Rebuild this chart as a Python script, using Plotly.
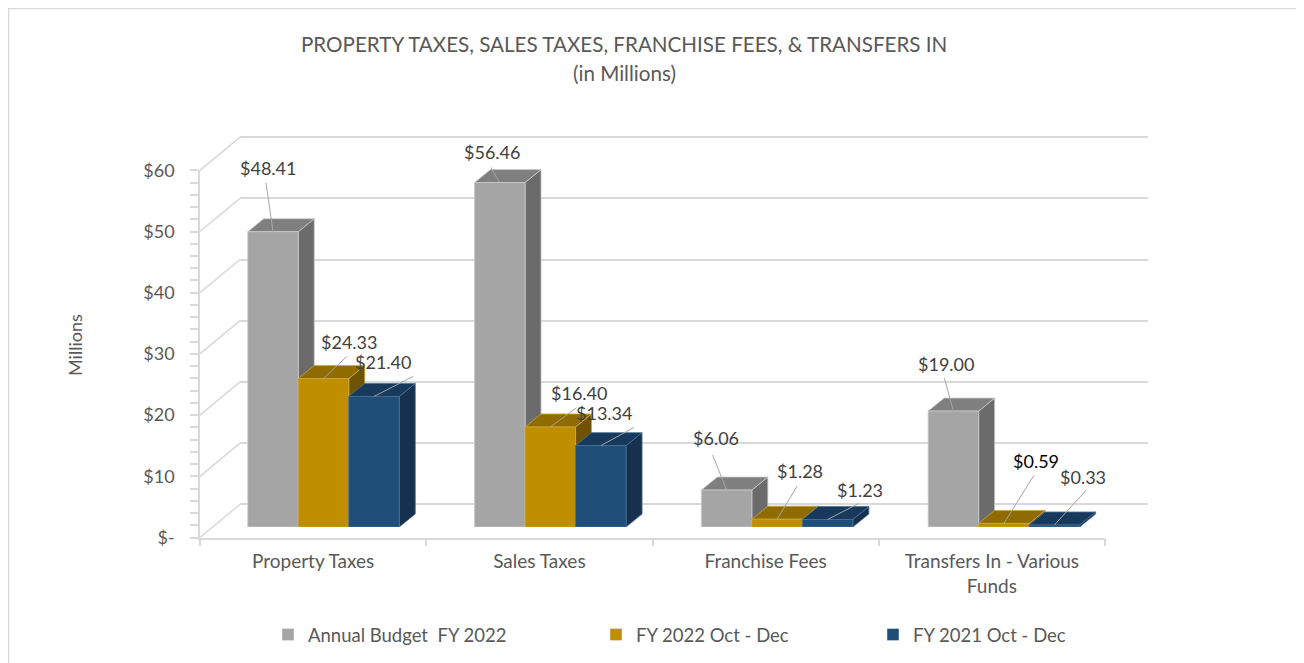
import plotly.graph_objects as go

# data (millions of dollars)
categories = ["Property Taxes", "Sales Taxes", "Franchise Fees", "Transfers In - Various<br>Funds"]
series_names = ["Annual Budget\u00a0 FY 2022", "FY 2022 Oct - Dec", "FY 2021 Oct - Dec"]
budget_fy2022 = [48.41, 56.46, 6.06, 19.00]
fy2022_oct_dec = [24.33, 16.40, 1.28, 0.59]
fy2021_oct_dec = [21.40, 13.34, 1.23, 0.33]
y_tickvals = [0, 10, 20, 30, 40, 50, 60]
y_ticktext = ["$-", "$10", "$20", "$30", "$40", "$50", "$60"]
label_text = [["$48.41", "$56.46", "$6.06", "$19.00"],
              ["$24.33", "$16.40", "$1.28", "$0.59"],
              ["$21.40", "$13.34", "$1.23", "$0.33"]]

# styling
W, H = 1304, 663
OFF = 8  # default body margin of the html page
FIG_W, FIG_H = W - OFF, H - OFF
FONT = "Lato"
TXT = "#595959"
GRID = "#d9d9d9"
front_col = ["#a5a5a5", "#bf8f00", "#1f4e79"]
top_col = ["#7f7f7f", "#8f6b00", "#173a5c"]
side_col = ["#6b6b6b", "#6f5300", "#15314d"]
edge_col = ["#c9c9c9", "#c9a740", "#4a6f95"]
label_col = [["#404040"] * 4, ["#404040", "#404040", "#404040", "#000000"], ["#404040"] * 4]

# label offsets in pixels from bar top (dx, dy down), and leader start
label_off = [[(-5, -64), (-8, -31), (-11, -52), (-7, -47)],
             [(25, -37), (29, -34), (23, -48), (32, -62)],
             [(9, -34), (3, -33), (32, -30), (29, -48)]]
leader_off = [[(-7, -49), (-9, -15), (-14, -35), (-9, -33)],
              [(23, -22), (26, -19), (20, -33), (30, -48)],
              [(39, -20), (33, -18), (31, -16), (32, -35)]]


def pxx(p):
    return (p - OFF) / FIG_W


def pxy(p):
    return 1 - (p - OFF) / FIG_H


# geometry of the three planes (pixels in the reference)
front_x0, front_x1, front_zero, front_scale = 200, 1105, 537.5, 6.12
back_x0, back_x1, back_zero, back_scale = 240, 1148, 504.3, 6.12
bar_zero, bar_scale, cat_px0, cat_step = 527, 6.1, 323.5, 226.8
bar_w = 50.5 / cat_step
depth_x = 16 / cat_step
depth_y = 13 / bar_scale

values = [budget_fy2022, fy2022_oct_dec, fy2021_oct_dec]

fig = go.Figure()

# back wall (gridlines)
fig.add_trace(go.Scatter(x=[0], y=[0], mode="markers", marker=dict(opacity=0),
                         showlegend=False, hoverinfo="skip", xaxis="x", yaxis="y"))
# front axes
fig.add_trace(go.Scatter(x=categories, y=[0] * 4, mode="markers", marker=dict(opacity=0),
                         showlegend=False, hoverinfo="skip", xaxis="x2", yaxis="y2"))

# 3d bars drawn as faces on the bar plane
for s, vals in enumerate(values):
    fx, fy, tx, ty, sx, sy = [], [], [], [], [], []
    for c, v in enumerate(vals):
        x0 = c + (s - 1.5) * bar_w
        x1 = x0 + bar_w
        fx += [x0, x1, x1, x0, x0, None]
        fy += [0, 0, v, v, 0, None]
        tx += [x0, x1, x1 + depth_x, x0 + depth_x, x0, None]
        ty += [v, v, v + depth_y, v + depth_y, v, None]
        sx += [x1, x1 + depth_x, x1 + depth_x, x1, x1, None]
        sy += [0, depth_y, v + depth_y, v, 0, None]
    for xs, ys, col in ((sx, sy, side_col[s]), (tx, ty, top_col[s]), (fx, fy, front_col[s])):
        fig.add_trace(go.Scatter(x=xs, y=ys, mode="lines", fill="toself", fillcolor=col,
                                 line=dict(color=edge_col[s], width=0.8),
                                 showlegend=False, hoverinfo="skip", xaxis="x3", yaxis="y3"))
    # legend entry
    fig.add_trace(go.Bar(x=[None], y=[None], name=series_names[s], marker_color=front_col[s],
                         xaxis="x3", yaxis="y3", legend=["legend", "legend2", "legend3"][s]))

annotations = []
shapes = []
for s, vals in enumerate(values):
    for c, v in enumerate(vals):
        cx = c + (s - 1) * bar_w
        lx, ly = label_off[s][c]
        annotations.append(dict(x=cx, y=v, xref="x3", yref="y3", text=label_text[s][c],
                                showarrow=False, xshift=lx, yshift=-ly,
                                xanchor="center", yanchor="middle",
                                font=dict(family=FONT, size=18, color=label_col[s][c])))
        sx_, sy_ = leader_off[s][c]
        shapes.append(dict(type="line", xref="x3", yref="y3", xsizemode="pixel", ysizemode="pixel",
                           xanchor=cx, yanchor=v, x0=0, y0=0, x1=sx_, y1=-sy_,
                           line=dict(color="#a6a6a6", width=1)))

# side wall diagonals from front ticks to back gridlines
for t in y_tickvals:
    shapes.append(dict(type="line", xref="paper", yref="paper",
                       x0=pxx(front_x0), y0=pxy(front_zero - t * front_scale),
                       x1=pxx(back_x0), y1=pxy(back_zero - t * back_scale),
                       line=dict(color=GRID, width=1.5), layer="below"))

# outer frame
shapes.append(dict(type="rect", xref="paper", yref="paper", x0=pxx(8.5), x1=pxx(1300.5),
                   y0=pxy(680), y1=pxy(8.5), line=dict(color=GRID, width=1.5)))

annotations += [
    dict(x=pxx(624), y=pxy(44), xref="paper", yref="paper", showarrow=False,
         xanchor="center", yanchor="middle",
         text="PROPERTY TAXES, SALES TAXES, FRANCHISE FEES, &amp; TRANSFERS IN",
         font=dict(family=FONT, size=20.6, color=TXT)),
    dict(x=pxx(624), y=pxy(73), xref="paper", yref="paper", showarrow=False,
         xanchor="center", yanchor="middle",
         text="(in Millions)", font=dict(family=FONT, size=20.6, color=TXT)),
    dict(x=pxx(75), y=pxy(345), xref="paper", yref="paper", showarrow=False,
         xanchor="center", yanchor="middle",
         text="Millions", textangle=-90, font=dict(family=FONT, size=18, color=TXT)),
]

back_lo, back_hi = -1, 61
legend_style = dict(yanchor="middle", xanchor="left", bgcolor="rgba(0,0,0,0)",
                    font=dict(family=FONT, size=18.5, color=TXT))
fig.update_layout(
    width=FIG_W, height=FIG_H,
    margin=dict(l=0, r=0, t=0, b=0, autoexpand=False),
    paper_bgcolor="white", plot_bgcolor="rgba(0,0,0,0)",
    font=dict(family=FONT, size=18, color=TXT),
    xaxis=dict(domain=[pxx(back_x0), pxx(back_x1)], range=[0, 1], visible=False, anchor="y"),
    yaxis=dict(domain=[pxy(back_zero - back_lo * back_scale), pxy(back_zero - back_hi * back_scale)],
               range=[back_lo, back_hi], anchor="x", tickvals=y_tickvals, showticklabels=False,
               showgrid=True, gridcolor=GRID, gridwidth=1.5, zeroline=False, showline=False),
    xaxis2=dict(domain=[pxx(front_x0), pxx(front_x1)], anchor="y2", type="category",
                range=[-0.5, 3.5], tickson="boundaries", ticks="outside", ticklen=7,
                tickcolor=GRID, tickwidth=1.5, showline=True, linecolor=GRID, linewidth=1.5,
                showgrid=False, zeroline=False, ticklabelstandoff=6, automargin=False,
                tickfont=dict(family=FONT, size=19, color=TXT)),
    yaxis2=dict(domain=[pxy(front_zero), pxy(front_zero - 60 * front_scale)], anchor="x2",
                range=[0, 60], tickvals=y_tickvals, ticktext=y_ticktext, ticks="outside",
                ticklen=8, tickcolor=GRID, tickwidth=1.5, showline=True, linecolor=GRID,
                linewidth=1.5, showgrid=False, zeroline=False, ticklabelstandoff=12,
                automargin=False,
                minor=dict(dtick=2, ticks="outside", ticklen=8, tickcolor=GRID, showgrid=False),
                tickfont=dict(family=FONT, size=18, color=TXT)),
    xaxis3=dict(domain=[pxx(cat_px0 - 0.5 * cat_step), pxx(cat_px0 + 3.5 * cat_step)],
                range=[-0.5, 3.5], visible=False, anchor="y3"),
    yaxis3=dict(domain=[pxy(bar_zero), pxy(bar_zero - 60 * bar_scale)], range=[0, 60],
                visible=False, anchor="x3"),
    legend=dict(x=pxx(268), y=pxy(635), **legend_style),
    legend2=dict(x=pxx(596), y=pxy(635), **legend_style),
    legend3=dict(x=pxx(873), y=pxy(635), **legend_style),
    annotations=annotations,
    shapes=shapes,
)

fig.write_html("out.html")
